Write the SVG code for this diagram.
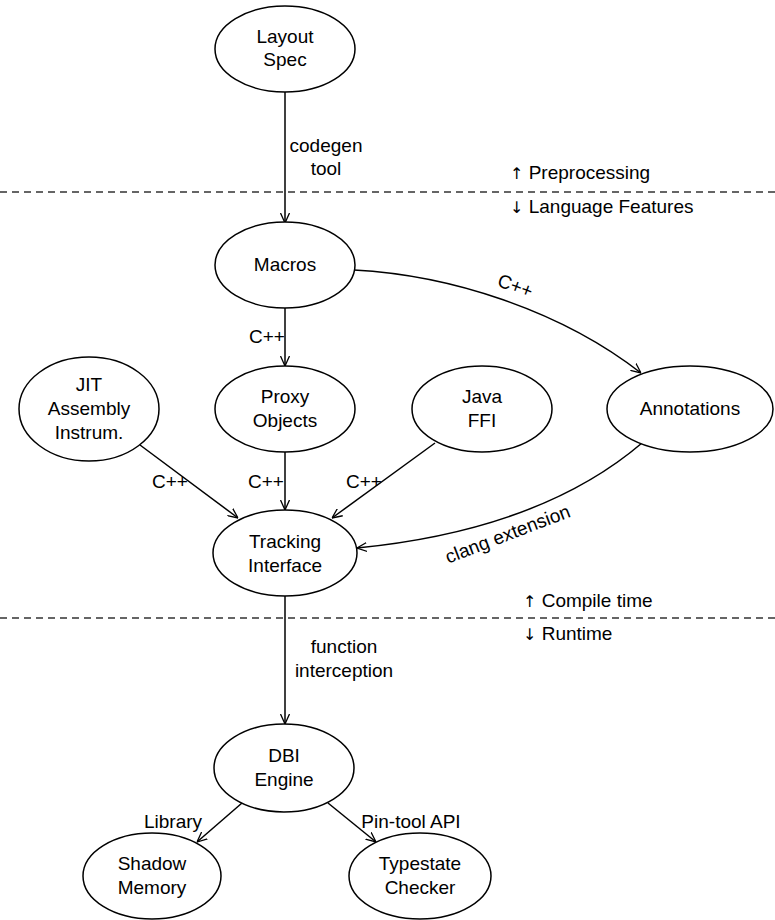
<svg xmlns="http://www.w3.org/2000/svg" width="775" height="920" viewBox="0 0 775 920">
<style>
  text { font-family: "Liberation Sans", Arial, sans-serif; font-size: 19px; fill: #000; }
  .ar { font-family: "DejaVu Sans", sans-serif; font-size: 16px; fill: #000; }
  .node ellipse { fill: #fff; stroke: #000; stroke-width: 1.5; }
  .node text, .mid { text-anchor: middle; }
  .edge { fill: none; stroke: #000; stroke-width: 1.5; marker-end: url(#arr); }
  .sep { stroke: #333; stroke-width: 1.5; stroke-dasharray: 7 5; }
</style>
<defs>
  <marker id="arr" viewBox="0 0 10 10" refX="10" refY="5" markerWidth="10" markerHeight="10" markerUnits="userSpaceOnUse" orient="auto">
    <path d="M0,0.5 L10,5 L0,9.5" fill="none" stroke="#000" stroke-width="1.3"/>
  </marker>
</defs>
<rect width="775" height="920" fill="#fff"/>

<g id="separators">
  <line class="sep" x1="0" y1="192" x2="775" y2="192"/>
  <line class="sep" x1="0" y1="618" x2="775" y2="618"/>
  <text x="510" y="179"><tspan class="ar">↑</tspan> Preprocessing</text>
  <text x="510" y="213"><tspan class="ar">↓</tspan> Language Features</text>
  <text x="523" y="607"><tspan class="ar">↑</tspan> Compile time</text>
  <text x="523" y="640"><tspan class="ar">↓</tspan> Runtime</text>
</g>

<g id="connectors">
  <line class="edge" x1="285" y1="92" x2="285" y2="223"/>
  <line class="edge" x1="285" y1="308" x2="285" y2="366"/>
  <path class="edge" d="M354,270 C450,275 560,310 641,373"/>
  <line class="edge" x1="140" y1="445" x2="238" y2="518"/>
  <line class="edge" x1="285" y1="452" x2="285" y2="510"/>
  <line class="edge" x1="435" y1="443" x2="332" y2="518"/>
  <path class="edge" d="M642,443 Q540,530 357,548"/>
  <line class="edge" x1="285" y1="596" x2="285" y2="724"/>
  <line class="edge" x1="242" y1="803" x2="197" y2="842"/>
  <line class="edge" x1="328" y1="803" x2="376" y2="842"/>

  <text class="mid" x="326" y="152">codegen</text>
  <text class="mid" x="326" y="175">tool</text>
  <text class="mid" x="267" y="343">C++</text>
  <text class="mid" transform="translate(513,292) rotate(20)">C++</text>
  <text class="mid" x="170" y="488">C++</text>
  <text class="mid" x="266" y="488">C++</text>
  <text class="mid" x="364" y="488">C++</text>
  <text class="mid" transform="translate(510,540) rotate(-21)">clang extension</text>
  <text class="mid" x="344" y="653">function</text>
  <text class="mid" x="344" y="677">interception</text>
  <text class="mid" x="173" y="828">Library</text>
  <text class="mid" x="411" y="828">Pin-tool API</text>
</g>

<g id="layout-spec" class="node">
  <ellipse cx="285" cy="49" rx="70" ry="43"/>
  <text x="285" y="43">Layout</text>
  <text x="285" y="66">Spec</text>
</g>
<g id="macros" class="node">
  <ellipse cx="285" cy="265" rx="70" ry="43"/>
  <text x="285" y="271">Macros</text>
</g>
<g id="jit" class="node">
  <ellipse cx="89" cy="409" rx="70" ry="52"/>
  <text x="89" y="391">JIT</text>
  <text x="89" y="415">Assembly</text>
  <text x="89" y="439">Instrum.</text>
</g>
<g id="proxy-objects" class="node">
  <ellipse cx="285" cy="409" rx="70" ry="43"/>
  <text x="285" y="403">Proxy</text>
  <text x="285" y="427">Objects</text>
</g>
<g id="java-ffi" class="node">
  <ellipse cx="482" cy="409" rx="70" ry="43"/>
  <text x="482" y="403">Java</text>
  <text x="482" y="427">FFI</text>
</g>
<g id="annotations" class="node">
  <ellipse cx="690" cy="409" rx="83" ry="43"/>
  <text x="690" y="415">Annotations</text>
</g>
<g id="tracking-interface" class="node">
  <ellipse cx="285" cy="553" rx="72" ry="43"/>
  <text x="285" y="548">Tracking</text>
  <text x="285" y="572">Interface</text>
</g>
<g id="dbi-engine" class="node">
  <ellipse cx="284" cy="768" rx="70" ry="44"/>
  <text x="284" y="762">DBI</text>
  <text x="284" y="786">Engine</text>
</g>
<g id="shadow-memory" class="node">
  <ellipse cx="152" cy="876" rx="69" ry="43"/>
  <text x="152" y="870">Shadow</text>
  <text x="152" y="894">Memory</text>
</g>
<g id="typestate-checker" class="node">
  <ellipse cx="420" cy="876" rx="71" ry="43"/>
  <text x="420" y="870">Typestate</text>
  <text x="420" y="894">Checker</text>
</g>
</svg>
